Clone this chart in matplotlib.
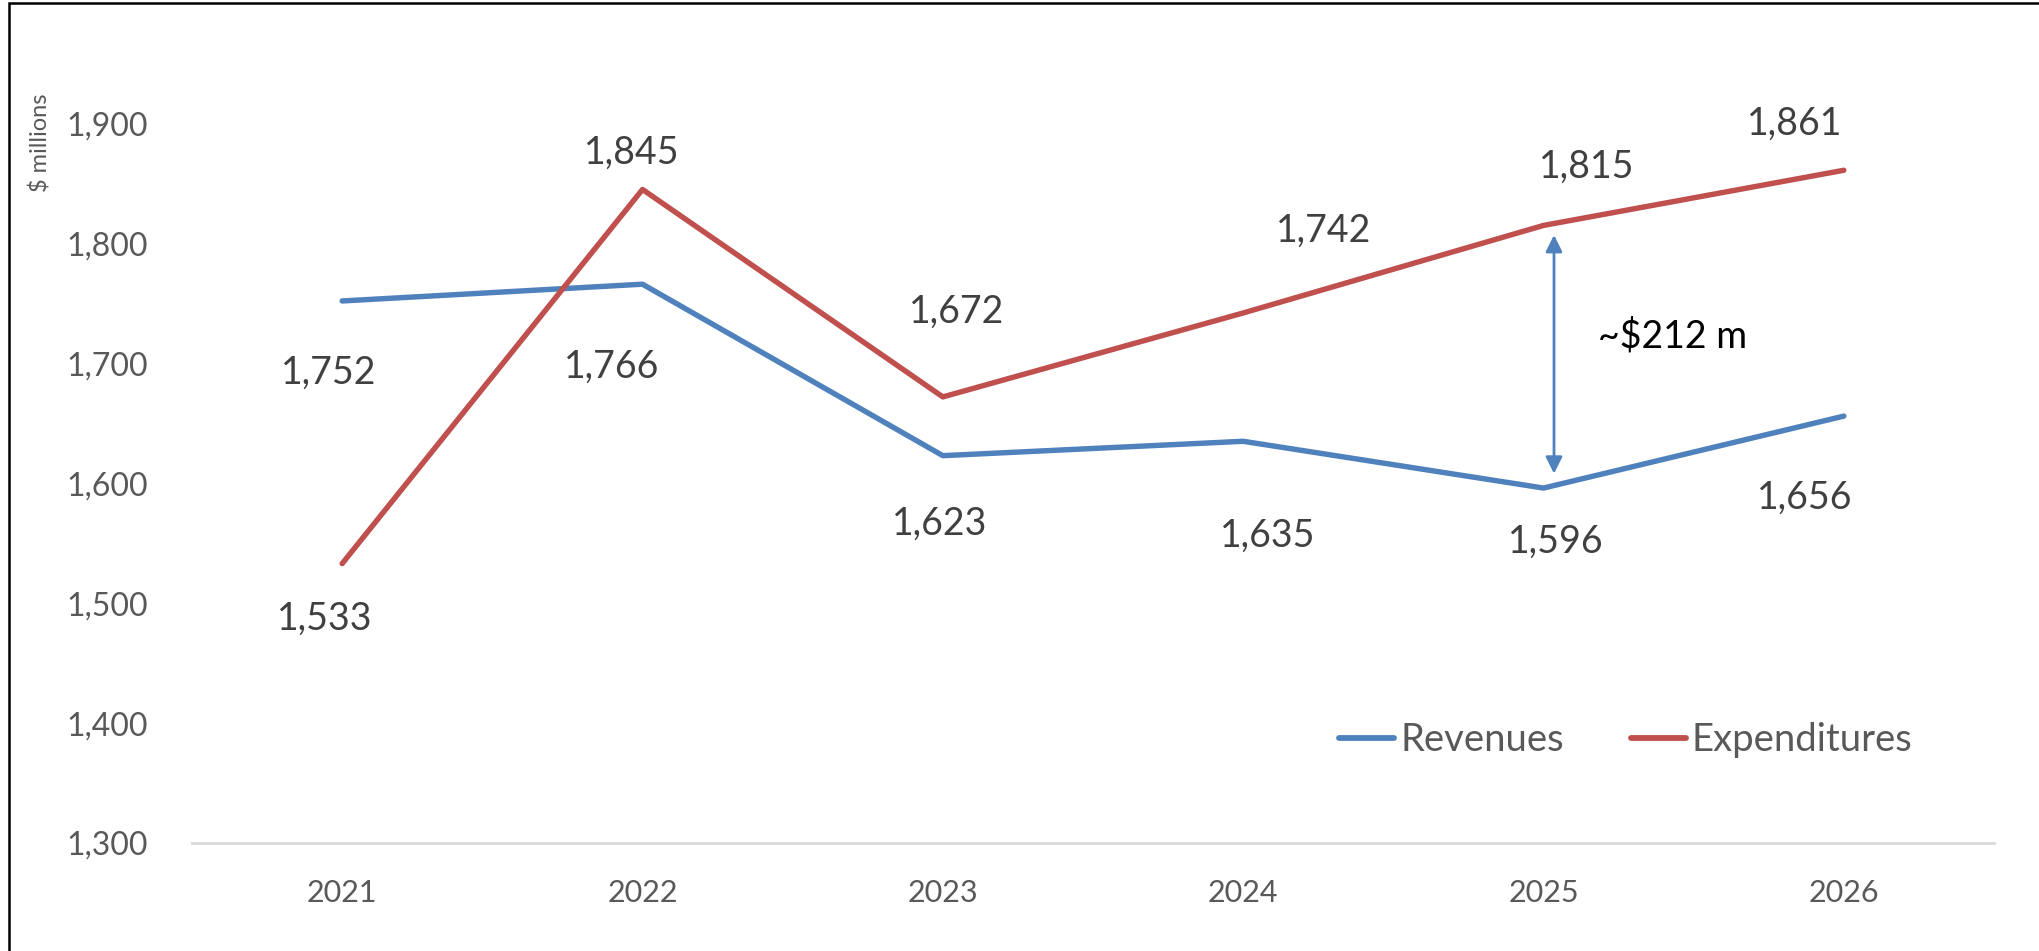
import matplotlib
matplotlib.use("Agg")
import matplotlib.pyplot as plt
from matplotlib.patches import Rectangle

plt.rcParams['font.family'] = ['Lato', 'DejaVu Sans']

years = ["2021", "2022", "2023", "2024", "2025", "2026"]
revenues = [1752, 1766, 1623, 1635, 1596, 1656]
expenditures = [1533, 1845, 1672, 1742, 1815, 1861]
y_ticks = [1300, 1400, 1500, 1600, 1700, 1800, 1900]
gap_label = "~$212 m"
gap_year_index = 4

# label offsets (pixels) for data labels
rev_off = [(-13, -72), (-31, -83), (-3, -68), (25, -94), (12, -54), (-39, -82)]
exp_off = [(-17, -55), (-11, 37), (14, 85), (81, 82), (43, 59), (-49, 47)]

BLUE = "#4F81BD"
RED = "#C0504D"
TICK = "#595959"
LAB = "#404040"

W, H = 2039, 951
fig = plt.figure(figsize=(W / 100, H / 100), dpi=100)
ax = fig.add_axes([192 / W, 1 - 843 / H, (1994 - 192) / W, (843 - 123.5) / H])

x = list(range(len(years)))
ax.plot(x, revenues, color=BLUE, lw=3.9, solid_capstyle="round", label="Revenues", clip_on=False)
ax.plot(x, expenditures, color=RED, lw=3.9, solid_capstyle="round", label="Expenditures", clip_on=False)

for i, v in enumerate(revenues):
    ax.annotate(f"{v:,}", (i, v), xytext=rev_off[i], textcoords="offset pixels",
                ha="center", va="center", fontsize=27, color=LAB, annotation_clip=False)
for i, v in enumerate(expenditures):
    ax.annotate(f"{v:,}", (i, v), xytext=exp_off[i], textcoords="offset pixels",
                ha="center", va="center", fontsize=27, color=LAB, annotation_clip=False)

# gap arrow
i = gap_year_index
ax.annotate("", xy=(i + 0.035, expenditures[i] - 8), xytext=(i + 0.035, revenues[i] + 12),
            arrowprops=dict(arrowstyle="<|-|>", color=BLUE, lw=2, mutation_scale=25,
                            shrinkA=0, shrinkB=0))
ax.annotate(gap_label, (i, (expenditures[i] + revenues[i]) / 2), xytext=(54, 20),
            textcoords="offset pixels", ha="left", va="center", fontsize=27, color="black")

ax.set_xlim(-0.5, len(years) - 0.5)
ax.set_ylim(1300, 1900)
ax.set_yticks(y_ticks)
ax.set_yticklabels([f"{t:,}" for t in y_ticks])
ax.set_xticks(x)
ax.set_xticklabels(years)
ax.tick_params(axis="y", length=0, pad=32, labelsize=23, labelcolor=TICK)
ax.tick_params(axis="x", length=0, pad=26, labelsize=22, labelcolor=TICK)
for s in ["top", "right", "left"]:
    ax.spines[s].set_visible(False)
ax.spines["bottom"].set_color("#D9D9D9")
ax.spines["bottom"].set_linewidth(2)

fig.text(40 / W, 1 - 143 / H, "$ millions", rotation=90, ha="center", va="center",
         fontsize=17, color=TICK)

leg = ax.legend(loc="center left", bbox_to_anchor=((1339 - 192) / (1994 - 192), (843 - 740) / (843 - 123.5)),
                ncol=2, frameon=False, fontsize=27.5, handlelength=1.45, handletextpad=0.15,
                columnspacing=1.75, labelcolor=TICK, borderaxespad=0, borderpad=0)
for ln in leg.get_lines():
    ln.set_linewidth(4.2)

fig.patches.append(Rectangle((9 / W, -0.1), 1.2, 1 - 3 / H + 0.1, transform=fig.transFigure,
                             fill=False, edgecolor="black", lw=1.8))

fig.savefig("out.png", dpi=100, facecolor="white")
